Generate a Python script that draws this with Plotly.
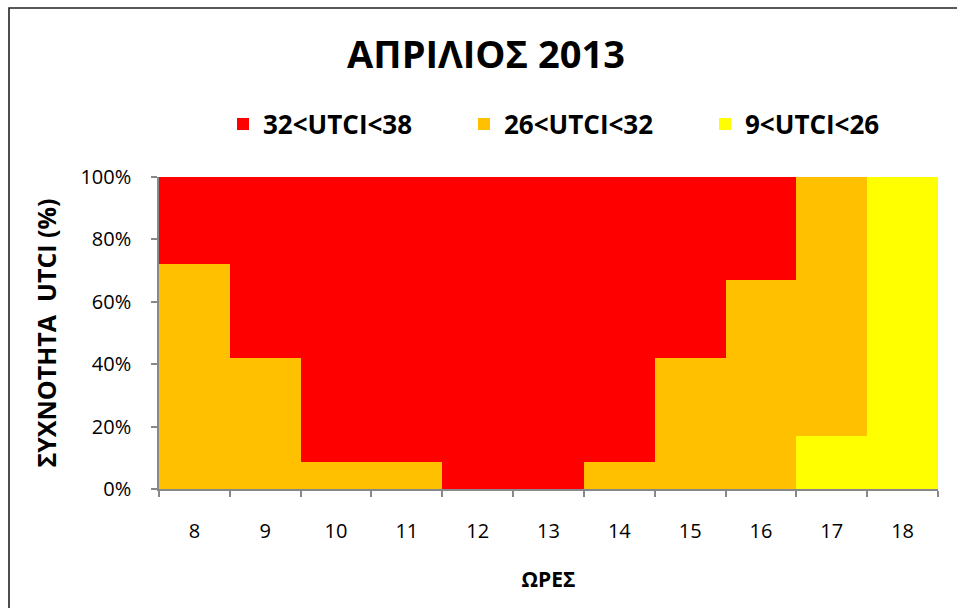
import plotly.graph_objects as go

# Hourly UTCI class frequencies (%) for April 2013
hours = ["8", "9", "10", "11", "12", "13", "14", "15", "16", "17", "18"]
utci_9_26 = [0, 0, 0, 0, 0, 0, 0, 0, 0, 17, 100]
utci_26_32 = [72, 42, 8.5, 8.5, 0, 0, 8.5, 42, 67, 83, 0]
utci_32_38 = [28, 58, 91.5, 91.5, 100, 100, 91.5, 58, 33, 0, 0]

y_ticks = [0, 20, 40, 60, 80, 100]
y_tick_labels = ["0%", "20%", "40%", "60%", "80%", "100%"]

series = [
    ("9<UTCI<26", utci_9_26, "#FFFF00"),
    ("26<UTCI<32", utci_26_32, "#FFC000"),
    ("32<UTCI<38", utci_32_38, "#FF0000"),
]

FONT = "Open Sans, Noto Sans, DejaVu Sans, sans-serif"
W, H = 957, 608
ML, MR, MT, MB = 159, 19, 177, 119

fig = go.Figure()
for name, vals, color in series:
    fig.add_trace(go.Bar(
        x=hours, y=vals, name=name,
        marker=dict(color=color, line=dict(width=0)),
        hoverinfo="x+y+name",
    ))

pw = W - ML - MR
ph = H - MT - MB
# outer chart frame (left and top edges visible inside the page)
bx0 = (9 - ML) / pw
by1 = (H - MB - 8) / ph
fig.add_shape(type="rect", xref="paper", yref="paper",
              x0=bx0, x1=(W + 5 - ML) / pw, y0=-(MB + 5) / ph, y1=by1,
              line=dict(color="#222222", width=1.6), layer="above")

fig.update_layout(
    width=W, height=H,
    margin=dict(l=ML, r=MR, t=MT, b=MB, pad=0),
    paper_bgcolor="white", plot_bgcolor="white",
    barmode="stack", bargap=0,
    font=dict(family=FONT, color="black"),
    title=dict(text="<b>ΑΠΡΙΛΙΟΣ 2013</b>", x=486 / W, xref="container",
               xanchor="center", y=1 - 55 / H, yref="container", yanchor="middle",
               font=dict(size=38, family=FONT, color="black")),
    legend=dict(orientation="h", traceorder="reversed",
                xref="container", yref="container",
                x=223 / W, xanchor="left", y=1 - 124 / H, yanchor="middle",
                font=dict(size=26, family=FONT, color="black", weight="bold"),
                entrywidth=196, itemclick=False, itemdoubleclick=False),
    xaxis=dict(
        type="category", showline=True, linecolor="#888888", linewidth=1.5,
        ticks="outside", tickson="boundaries", ticklen=6, tickcolor="#888888",
        tickwidth=1.5, tickfont=dict(size=20, family=FONT, color="black"),
        ticklabelstandoff=23, showgrid=False, zeroline=False,
        title=dict(text="<b>ΩΡΕΣ</b>", font=dict(size=21, family=FONT, color="black"),
                   standoff=30),
    ),
    yaxis=dict(
        range=[0, 100], tickmode="array", tickvals=y_ticks, ticktext=y_tick_labels,
        showline=True, linecolor="#888888", linewidth=1.5,
        ticks="outside", ticklen=6, tickcolor="#888888", tickwidth=1.5,
        tickfont=dict(size=20, family=FONT, color="black"),
        ticklabelstandoff=16, showgrid=False, zeroline=False,
        title=dict(text="<b>ΣΥΧΝΟΤΗΤΑ  UTCI (%)</b>",
                   font=dict(size=25, family=FONT, color="black"), standoff=17),
    ),
)

fig.write_html("out.html")
